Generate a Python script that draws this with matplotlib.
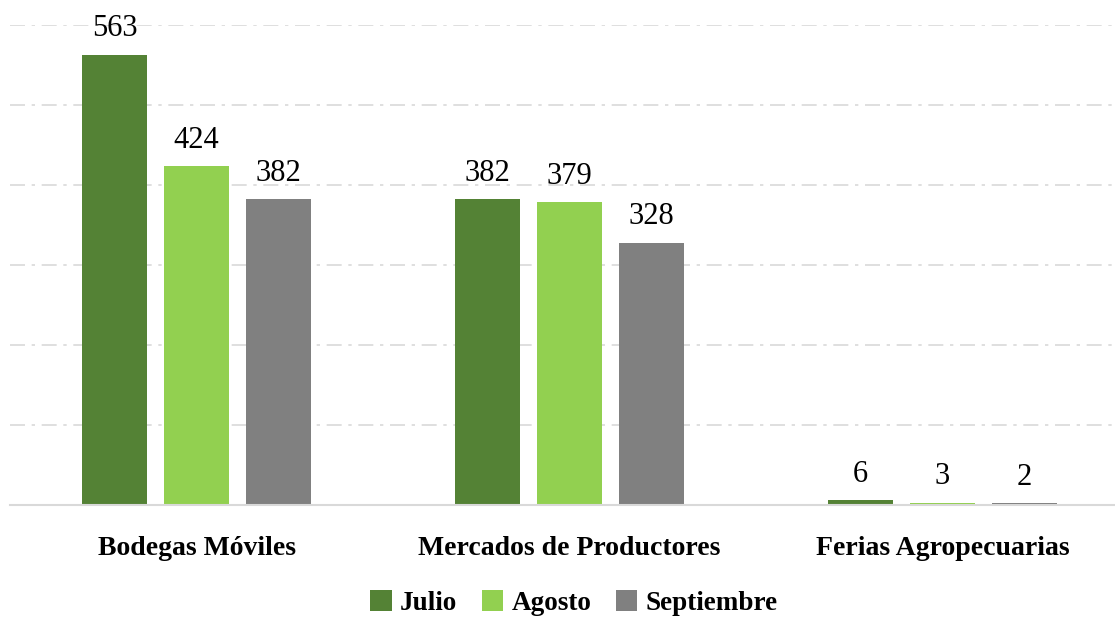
import matplotlib.pyplot as plt
import numpy as np

# data
categories = ["Bodegas Móviles", "Mercados de Productores", "Ferias Agropecuarias"]
series = ["Julio", "Agosto", "Septiembre"]
julio = [563, 382, 6]
agosto = [424, 379, 3]
septiembre = [382, 328, 2]

colors = ["#548235", "#92D050", "#808080"]
plt.rcParams["font.family"] = ["Liberation Serif", "DejaVu Serif"]

W, H = 1115, 617
fig = plt.figure(figsize=(W / 100, H / 100), dpi=100)
ax = fig.add_axes([10 / W, (617 - 505) / H, 1119 / W, 480 / H])

x = np.arange(len(categories))
width = 0.174
step = 0.22
for i, (vals, name) in enumerate(zip([julio, agosto, septiembre], series)):
    pos = x + (i - 1) * step
    bars = ax.bar(pos, vals, width, color=colors[i], label=name, zorder=3)
    for b, v in zip(bars, vals):
        ax.annotate(str(v), (b.get_x() + b.get_width() / 2, v), xytext=(0, 8),
                    textcoords="offset points", ha="center", va="bottom",
                    fontsize=22, color="#000000")

ax.set_xlim(-0.5, 2.5)
ax.set_ylim(0, 600)
ax.set_yticks(range(0, 601, 100))
ax.yaxis.grid(True, color="#D9D9D9", linestyle=(0, (9, 4, 2, 4)), linewidth=1.2, zorder=0)
ax.tick_params(axis="y", left=False, labelleft=False)
ax.tick_params(axis="x", bottom=False, pad=19)
ax.set_xticks(x)
ax.set_xticklabels(categories, fontsize=20, fontweight="bold")
for s in ["top", "right", "left"]:
    ax.spines[s].set_visible(False)
ax.spines["bottom"].set_color("#D9D9D9")
ax.spines["bottom"].set_linewidth(1.5)
ax.spines["bottom"].set_zorder(4)

leg = fig.legend(loc="center", bbox_to_anchor=(574 / W, 1 - 603 / H), ncol=3, frameon=False,
                 prop={"size": 19.5, "weight": "bold"}, handlelength=0.8, handleheight=0.8,
                 handletextpad=0.3, columnspacing=0.9)

fig.savefig("out.png", dpi=100, facecolor="white")
